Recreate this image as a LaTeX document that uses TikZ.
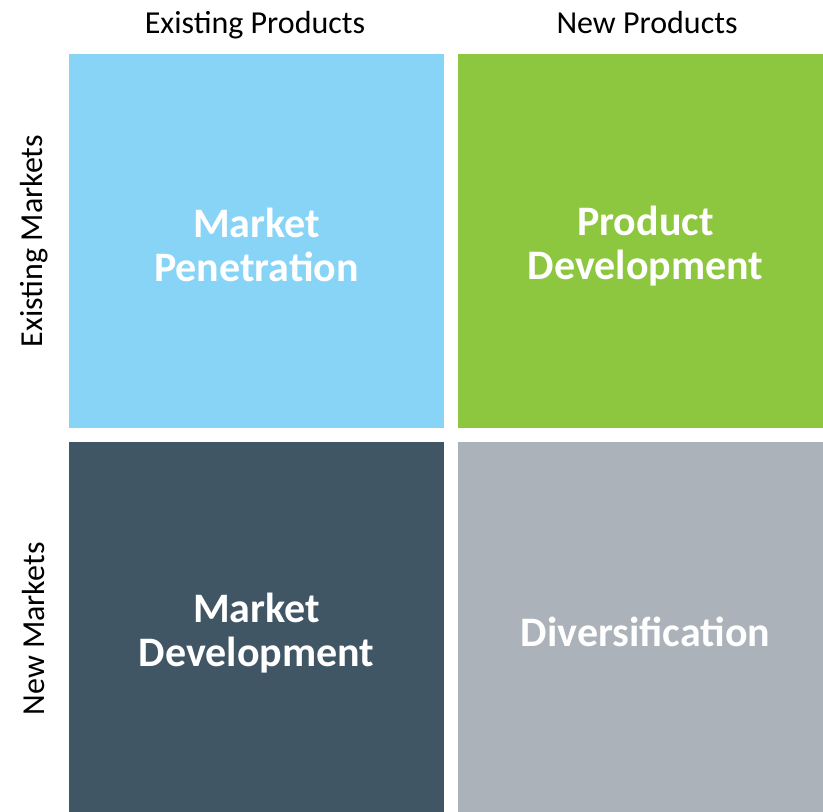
\documentclass[tikz,border=0pt]{standalone}
\usepackage{fontspec}
\setmainfont{Carlito}
\definecolor{penblue}{RGB}{135,212,247}
\definecolor{devgreen}{RGB}{141,198,63}
\definecolor{slate}{RGB}{64,86,100}
\definecolor{divgray}{RGB}{171,178,186}

\begin{document}
\begin{tikzpicture}[x=1pt, y=1pt,
    quad/.style = {rectangle, minimum width = 375pt, minimum height = 374pt, inner sep=0pt},
    qtext/.style = {text=white, align=center, font=\fontsize{42}{44}\selectfont\bfseries},
    axis/.style = {font=\fontsize{32}{36}\selectfont}]
    \useasboundingbox (0,0) rectangle (823,812);
    \clip (0,0) rectangle (823,812);

    %Quadrants
    \node at (256.5, 571) [quad, fill=penblue] (mp) {};
    \node at (645.5, 571) [quad, fill=devgreen] (pd) {};
    \node at (256.5, 183) [quad, fill=slate] (md) {};
    \node at (645.5, 183) [quad, fill=divgray] (dv) {};

    \node at ([yshift=-3.5]mp.center) [qtext] (mpt) {Market\\Penetration};
    \node at ([yshift=-5]pd.center) [qtext] (pdt) {Product\\Development};
    \node at ([yshift=-4]md.center) [qtext] (mdt) {Market\\Development};
    \node at ([yshift=-3]dv.center) [qtext] (dvt) {Diversification};

    %Axis labels
    \node at (255, 778) [axis, anchor=base] (ep) {Existing Products};
    \node at (647, 778) [axis, anchor=base] (np) {New Products};
    \node at (34, 571) [axis, rotate=90] (em) {Existing Markets};
    \node at (34, 183) [axis, rotate=90] (nm) {New Markets};
\end{tikzpicture}
\end{document}
